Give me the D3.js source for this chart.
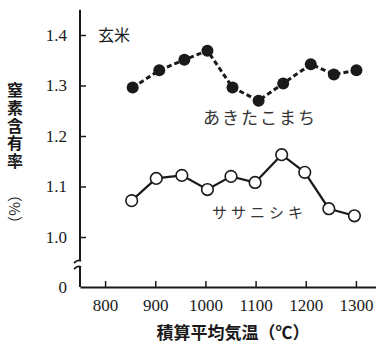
<!DOCTYPE html>
<html><head><meta charset="utf-8">
<script src="https://cdn.jsdelivr.net/npm/d3@7"></script>
<style>body{margin:0;background:#fff}svg{display:block}</style>
</head><body>
<script>
const tempsAkita = [855, 908, 958, 1004, 1054, 1106, 1155, 1210, 1256, 1301];
const akitakomachi = [1.296, 1.330, 1.351, 1.369, 1.296, 1.270, 1.304, 1.342, 1.322, 1.330];
const tempsSasa = [853, 902, 953, 1004, 1051, 1099, 1152, 1198, 1246, 1297];
const sasanishiki = [1.072, 1.116, 1.122, 1.094, 1.120, 1.108, 1.163, 1.128, 1.056, 1.042];
const xTicks = [800, 900, 1000, 1100, 1200, 1300];
const yTicks = [0, 1.0, 1.1, 1.2, 1.3, 1.4];
const yTitle = "窒素含有率";

const W = 376, H = 348;
const svg = d3.select("body").append("svg").attr("width", W).attr("height", H);
const ink = "#1a1a1a";
const x = d3.scaleLinear().domain([750, 1340]).range([80, 376]);
const y = d3.scaleLinear().domain([0, 0.95, 1.0, 1.45]).range([287, 262, 237, 9.75]);

// X axis
const xAxis = svg.append("g").attr("transform", `translate(0,${y(0)})`)
  .call(d3.axisBottom(x).tickValues(xTicks).tickFormat(d3.format("d"))
    .tickSizeInner(-6).tickSizeOuter(0).tickPadding(12));
xAxis.select(".domain").attr("stroke", ink).attr("stroke-width", 2);
xAxis.selectAll(".tick line").attr("stroke", ink).attr("stroke-width", 1.5);
xAxis.selectAll(".tick text").attr("font-family", "Liberation Serif, serif").attr("font-size", 17).attr("fill", ink);

// Y axis (two parts for the break)
const ya = svg.append("g").attr("transform", `translate(${x(750)},0)`)
  .call(d3.axisLeft(y).tickValues(yTicks).tickSizeInner(-6).tickSizeOuter(0).tickPadding(13)
    .tickFormat(d => d === 0 ? "0" : d.toFixed(1)));
ya.select(".domain").remove();
ya.selectAll(".tick line").filter(d => d === 0).remove();
ya.selectAll(".tick line").attr("stroke", ink).attr("stroke-width", 1.5);
ya.selectAll(".tick text").attr("font-family", "Liberation Serif, serif").attr("font-size", 17).attr("fill", ink);
const ax = x(750);
svg.append("line").attr("x1", ax).attr("x2", ax).attr("y1", y(1.45)).attr("y2", y(0.95) - 1)
  .attr("stroke", ink).attr("stroke-width", 2);
svg.append("line").attr("x1", ax).attr("x2", ax).attr("y1", y(0.95) + 5).attr("y2", y(0))
  .attr("stroke", ink).attr("stroke-width", 2);
[y(0.95) - 1, y(0.95) + 5].forEach(v => {
  svg.append("path").attr("d", `M${ax - 6},${v + 2} Q${ax - 2},${v - 2} ${ax + 1},${v}`)
    .attr("fill", "none").attr("stroke", ink).attr("stroke-width", 1.8);
});

// Series
const line = d3.line().x(d => x(d[0])).y(d => y(d[1]));
const akData = tempsAkita.map((t, i) => [t, akitakomachi[i]]);
const ssData = tempsSasa.map((t, i) => [t, sasanishiki[i]]);

svg.append("path").datum(akData).attr("d", line).attr("fill", "none")
  .attr("stroke", ink).attr("stroke-width", 3).attr("stroke-dasharray", "5,3");
svg.selectAll("circle.ak").data(akData).join("circle").attr("class", "ak")
  .attr("cx", d => x(d[0])).attr("cy", d => y(d[1])).attr("r", 6).attr("fill", ink);

svg.append("path").datum(ssData).attr("d", line).attr("fill", "none")
  .attr("stroke", ink).attr("stroke-width", 2.2);
svg.selectAll("circle.ss").data(ssData).join("circle").attr("class", "ss")
  .attr("cx", d => x(d[0])).attr("cy", d => y(d[1])).attr("r", 5.8)
  .attr("fill", "#fff").attr("stroke", ink).attr("stroke-width", 1.6);

// Labels
const jp = "Noto Sans CJK JP";
svg.append("text").attr("x", 98).attr("y", 41).text("玄米")
  .attr("font-family", jp).attr("font-size", 16).attr("fill", ink);
svg.append("text").attr("x", 203).attr("y", 124).text("あきたこまち")
  .attr("font-family", jp).attr("font-size", 17).attr("letter-spacing", 2).attr("fill", "#333");
svg.append("text").attr("x", 212).attr("y", 218).text("ササニシキ")
  .attr("font-family", jp).attr("font-size", 15).attr("letter-spacing", 4).attr("fill", "#333");
svg.append("text").attr("x", 233).attr("y", 339).attr("text-anchor", "middle").text("積算平均気温（℃）")
  .attr("font-family", jp).attr("font-size", 17).attr("font-weight", "bold").attr("fill", ink);

// Vertical y title: rotated run with upright glyphs
svg.append("text").attr("transform", "translate(7,96) rotate(90)")
  .attr("rotate", -90).attr("letter-spacing", 1.8)
  .text(yTitle).attr("font-family", jp).attr("font-size", 16).attr("font-weight", "bold").attr("fill", ink);
svg.append("text").attr("transform", "translate(9,209) rotate(90)").attr("text-anchor", "middle")
  .text("（%）").attr("font-family", jp).attr("font-size", 15).attr("fill", ink);
</script>
</body></html>
